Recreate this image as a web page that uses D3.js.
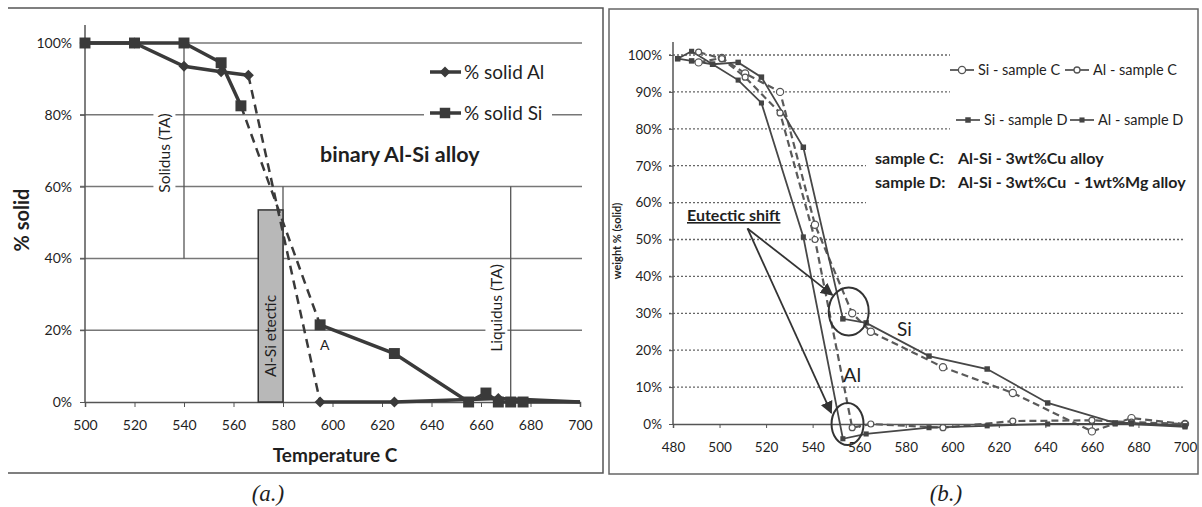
<!DOCTYPE html>
<html>
<head>
<meta charset="utf-8">
<script src="https://cdn.jsdelivr.net/npm/d3@7"></script>
<style>
  body { margin: 0; background: #fff; }
  svg text { font-family: Lato, "Open Sans", sans-serif; fill: #1f1f1f; }
</style>
</head>
<body>
<svg id="chart" width="1202" height="507"></svg>
<script>
// ---- panel (a.) binary Al-Si alloy ----
const tempAl = [500, 520, 540, 555, 566, 595, 625, 667, 700];
const solidAl = [100, 100, 93.5, 92, 91, 0, 0, 1, 0];
const tempSi = [500, 520, 540, 555, 563, 595, 625, 655, 662, 667, 672, 677, 700];
const solidSi = [100, 100, 100, 94.5, 82.5, 21.5, 13.5, 0, 2.5, 0, 0, 0, 0];
const dashFromA = 4; // segment 4 -> 5 is the dashed (extrapolated) part
const ticksTempA = [500, 520, 540, 560, 580, 600, 620, 640, 660, 680, 700];
const ticksPctA = [0, 20, 40, 60, 80, 100];
const solidusT = 540, liquidusT = 672;
const eutectic = [570, 580, 53.5];

// ---- panel (b.) samples C and D ----
const tempC = [491, 501, 511, 526, 541, 557, 565, 596, 626, 660, 677, 700];
const siC = [98, 99.2, 95, 90, 54, 30, 25, 15.4, 8.4, -2, 1.6, 0];
const alC = [100.8, 99, 94, 84.3, 50, -1, 0, -1, 0.8, 1, 0.5, 0];
const tempD = [482, 488, 497, 508, 518, 536, 553, 563, 590, 615, 641, 670, 677, 700];
const siD = [99, 98.4, 97.5, 98, 94, 75, 28.5, 27.4, 18.4, 14.9, 5.7, 0.3, 0.3, -0.5];
const alD = [99, 101, 97.5, 93.2, 87, 50.7, -4, -2.7, -1, -0.5, 0, 0, 0, -0.8];
const ticksTempB = d3.range(480, 701, 20);
const ticksPctB = d3.range(0, 101, 10);

const svg = d3.select("#chart");
const ink = "#3a3a3a";

// helper: text with a white box behind it (hides the gridlines like the original)
function boxedText(parent, str, tx, ty, rot, size, weight, anchor, pad) {
  const g = parent.append("g").attr("transform", `translate(${tx},${ty}) rotate(${rot})`);
  const r = g.append("rect").attr("fill", "#fff");
  const t = g.append("text")
    .attr("text-anchor", anchor || "middle")
    .attr("dy", "0.35em")
    .style("font-size", size + "px")
    .style("font-weight", weight || "normal")
    .text(str);
  const b = t.node().getBBox();
  r.attr("x", b.x - pad).attr("y", b.y - pad / 2)
    .attr("width", b.width + 2 * pad).attr("height", b.height + pad);
  return g;
}

// ================= panel (a.) =================
svg.append("path").attr("d", "M8,8H603V473H8")
  .attr("fill", "none").attr("stroke", "#555").attr("stroke-width", 1.5);

const xA = d3.scaleLinear().domain([500, 700]).range([85, 580]);
const yA = d3.scaleLinear().domain([0, 100]).range([402, 43]);
const gA = svg.append("g");

gA.selectAll(".gridA").data(ticksPctA.filter(d => d > 0)).join("line")
  .attr("x1", xA(500) - 5).attr("x2", 582)
  .attr("y1", d => yA(d)).attr("y2", d => yA(d))
  .attr("stroke", "#777").attr("stroke-width", 1.5);

gA.append("g").attr("transform", `translate(0,${yA(0)})`)
  .call(d3.axisBottom(xA).tickValues(ticksTempA).tickSize(5).tickPadding(13))
  .call(g => g.select(".domain").attr("stroke", "#555").attr("stroke-width", 1.5))
  .call(g => g.selectAll("line").attr("stroke", "#555"))
  .call(g => g.selectAll("text").style("font-size", "14px").attr("fill", "#2a2a2a"));

gA.append("g").attr("transform", `translate(${xA(500)},0)`)
  .call(d3.axisLeft(yA).tickValues(ticksPctA).tickFormat(d => d + "%").tickSize(5).tickPadding(8))
  .call(g => g.select(".domain").remove())
  .call(g => g.selectAll("line").attr("stroke", "#555"))
  .call(g => g.selectAll("text").style("font-size", "14px").attr("fill", "#2a2a2a"));
gA.append("line").attr("x1", xA(500)).attr("x2", xA(500)).attr("y1", 25).attr("y2", yA(0))
  .attr("stroke", "#555").attr("stroke-width", 1.5);

// solidus / liquidus markers
gA.append("line").attr("x1", xA(solidusT)).attr("x2", xA(solidusT))
  .attr("y1", yA(100)).attr("y2", yA(40)).attr("stroke", "#555").attr("stroke-width", 1.3);
gA.append("line").attr("x1", xA(liquidusT)).attr("x2", xA(liquidusT))
  .attr("y1", yA(60)).attr("y2", yA(0)).attr("stroke", "#555").attr("stroke-width", 1.3);
boxedText(gA, "Solidus (TA)", 165, 153, -90, 15.5, "normal", "middle", 4);
boxedText(gA, "Liquidus (TA)", 497, 308, -90, 15.5, "normal", "middle", 4);

// eutectic band
gA.append("line").attr("x1", xA(eutectic[1])).attr("x2", xA(eutectic[1]))
  .attr("y1", yA(60)).attr("y2", yA(0)).attr("stroke", "#555").attr("stroke-width", 1.3);
gA.append("rect").attr("x", xA(eutectic[0])).attr("y", yA(eutectic[2]))
  .attr("width", xA(eutectic[1]) - xA(eutectic[0])).attr("height", yA(0) - yA(eutectic[2]))
  .attr("fill", "#b8b8b8").attr("stroke", "#333").attr("stroke-width", 1.5);
gA.append("text").attr("transform", `translate(${(xA(eutectic[0]) + xA(eutectic[1])) / 2},336) rotate(-90)`)
  .attr("text-anchor", "middle").attr("dy", "0.35em").style("font-size", "15.5px")
  .text("Al-Si etectic");

// legend + title
const legA = gA.append("g");
legA.append("rect").attr("x", 424).attr("y", 56).attr("width", 128).attr("height", 70).attr("fill", "#fff");
const diamond = "M0,-5.5L5.5,0L0,5.5L-5.5,0Z";
[["% solid Al", 72, "d"], ["% solid Si", 113, "s"]].forEach(([lab, y, m]) => {
  legA.append("line").attr("x1", 430).attr("x2", 461).attr("y1", y).attr("y2", y)
    .attr("stroke", ink).attr("stroke-width", 3.5);
  legA.append("path").attr("d", m === "d" ? diamond : d3.symbol(d3.symbolSquare, 110)())
    .attr("transform", `translate(445,${y})`).attr("fill", ink);
  legA.append("text").attr("x", 464).attr("y", y).attr("dy", "0.35em")
    .style("font-size", "19px").text(lab);
});
gA.append("text").attr("x", 320).attr("y", 162).style("font-size", "21.5px")
  .style("font-weight", "bold").text("binary Al-Si alloy");
gA.append("text").attr("transform", "translate(22,220) rotate(-90)").attr("text-anchor", "middle")
  .attr("dy", "0.35em").style("font-size", "20px").style("font-weight", "bold").text("% solid");
gA.append("text").attr("x", 335).attr("y", 462).attr("text-anchor", "middle")
  .style("font-size", "19px").style("font-weight", "bold").text("Temperature C");
gA.append("text").attr("x", 320).attr("y", 350).style("font-size", "14px").text("A");

// data series
const lineA = d3.line().x(d => xA(d[0])).y(d => yA(d[1]));
function drawSeriesA(temps, vals, marker) {
  const pts = temps.map((t, i) => [t, vals[i]]);
  const parts = [
    [pts.slice(0, dashFromA + 1), null],
    [pts.slice(dashFromA, dashFromA + 2), "9,6"],
    [pts.slice(dashFromA + 1), null]
  ];
  parts.forEach(([p, dash]) => {
    gA.append("path").datum(p).attr("d", lineA).attr("fill", "none")
      .attr("stroke", ink).attr("stroke-width", dash ? 2.5 : 3.5)
      .attr("stroke-dasharray", dash);
  });
  gA.selectAll(null).data(pts.filter(d => d[0] < 700)).join("path")
    .attr("d", marker === "d" ? diamond : d3.symbol(d3.symbolSquare, 120)())
    .attr("transform", d => `translate(${xA(d[0])},${yA(d[1])})`)
    .attr("fill", ink);
}
drawSeriesA(tempAl, solidAl, "d");
drawSeriesA(tempSi, solidSi, "s");

svg.append("text").attr("x", 268).attr("y", 501).attr("text-anchor", "middle")
  .style("font-family", "'Liberation Serif', serif").style("font-style", "italic")
  .style("font-size", "23px").text("(a.)");

// ================= panel (b.) =================
svg.append("rect").attr("x", 609).attr("y", 9).attr("width", 589).attr("height", 465)
  .attr("fill", "none").attr("stroke", "#666").attr("stroke-width", 1.5);

const xB = d3.scaleLinear().domain([480, 700]).range([673, 1185]);
const yB = d3.scaleLinear().domain([0, 100]).range([424, 55]);
const gB = svg.append("g");

gB.selectAll(".gridB").data(ticksPctB.filter(d => d > 0)).join("line")
  .attr("x1", xB(480) - 4).attr("x2", xB(700))
  .attr("y1", d => yB(d)).attr("y2", d => yB(d))
  .attr("stroke", "#666").attr("stroke-width", 1.3).attr("stroke-dasharray", "2,2");

gB.append("g").attr("transform", `translate(0,${yB(0)})`)
  .call(d3.axisBottom(xB).tickValues(ticksTempB).tickSize(4).tickPadding(14))
  .call(g => g.select(".domain").attr("stroke", "#555").attr("stroke-width", 1.5))
  .call(g => g.selectAll("line").attr("stroke", "#555"))
  .call(g => g.selectAll("text").style("font-size", "13.5px").attr("fill", "#2a2a2a"));
gB.append("g").attr("transform", `translate(${xB(480)},0)`)
  .call(d3.axisLeft(yB).tickValues(ticksPctB).tickFormat(d => d + "%").tickSize(4).tickPadding(7))
  .call(g => g.select(".domain").remove())
  .call(g => g.selectAll("line").attr("stroke", "#555"))
  .call(g => g.selectAll("text").style("font-size", "13.5px").attr("fill", "#2a2a2a"));
gB.append("line").attr("x1", xB(480)).attr("x2", xB(480)).attr("y1", 42).attr("y2", yB(0))
  .attr("stroke", "#555").attr("stroke-width", 1.5);
gB.append("text").attr("transform", "translate(617,241) rotate(-90)").attr("text-anchor", "middle")
  .attr("dy", "0.35em").style("font-size", "11px").style("font-weight", "bold").text("weight % (solid)");

// white areas for legend and sample notes
gB.append("rect").attr("x", 950).attr("y", 48).attr("width", 240).attr("height", 90).attr("fill", "#fff");
gB.append("rect").attr("x", 866).attr("y", 140).attr("width", 326).attr("height", 66).attr("fill", "#fff");

const seriesB = [
  { name: "Si - sample C", t: tempC, v: siC, dash: "7,4", mark: "o", r: 3.6, lx: 962, ly: 70 },
  { name: "Al - sample C", t: tempC, v: alC, dash: "7,4", mark: "o", r: 3, lx: 1077, ly: 70 },
  { name: "Si - sample D", t: tempD, v: siD, dash: null, mark: "s", r: 30, lx: 968, ly: 120 },
  { name: "Al - sample D", t: tempD, v: alD, dash: null, mark: "s", r: 26, lx: 1082, ly: 120 }
];

// legend
seriesB.forEach(s => {
  gB.append("line").attr("x1", s.lx - 12).attr("x2", s.lx + 12).attr("y1", s.ly).attr("y2", s.ly)
    .attr("stroke", "#555").attr("stroke-width", 1.8);
  if (s.mark === "o") {
    gB.append("circle").attr("cx", s.lx).attr("cy", s.ly).attr("r", s.r)
      .attr("fill", "#fff").attr("stroke", "#555").attr("stroke-width", 1.3);
  } else {
    gB.append("path").attr("d", d3.symbol(d3.symbolSquare, s.r)())
      .attr("transform", `translate(${s.lx},${s.ly})`).attr("fill", "#444");
  }
  gB.append("text").attr("x", s.lx + 16).attr("y", s.ly).attr("dy", "0.35em")
    .style("font-size", "14.5px").text(s.name);
});

const noteB = gB.append("g").style("font-size", "16px").style("font-weight", "bold");
noteB.append("text").attr("x", 875).attr("y", 164).text("sample C:");
noteB.append("text").attr("x", 958).attr("y", 164).text("Al-Si - 3wt%Cu alloy");
noteB.append("text").attr("x", 875).attr("y", 188).text("sample D:");
noteB.append("text").attr("x", 958).attr("y", 188).style("white-space", "pre").text("Al-Si - 3wt%Cu  - 1wt%Mg alloy");

// data series
const lineB = d3.line().x(d => xB(d[0])).y(d => yB(d[1]));
seriesB.forEach(s => {
  const pts = s.t.map((t, i) => [t, s.v[i]]);
  gB.append("path").datum(pts).attr("d", lineB).attr("fill", "none")
    .attr("stroke", s.dash ? "#5a5a5a" : "#474747").attr("stroke-width", s.dash ? 2.2 : 1.8)
    .attr("stroke-dasharray", s.dash);
});
seriesB.forEach(s => {
  const pts = s.t.map((t, i) => [t, s.v[i]]);
  if (s.mark === "o") {
    gB.selectAll(null).data(pts).join("circle")
      .attr("cx", d => xB(d[0])).attr("cy", d => yB(d[1])).attr("r", s.r)
      .attr("fill", "#fff").attr("stroke", "#555").attr("stroke-width", 1.2);
  } else {
    gB.selectAll(null).data(pts).join("path")
      .attr("d", d3.symbol(d3.symbolSquare, s.r)())
      .attr("transform", d => `translate(${xB(d[0])},${yB(d[1])})`).attr("fill", "#444");
  }
});

// annotations: eutectic shift
const defs = svg.append("defs");
defs.append("marker").attr("id", "arr").attr("viewBox", "0 0 10 10").attr("refX", 9).attr("refY", 5)
  .attr("markerWidth", 7).attr("markerHeight", 7).attr("orient", "auto")
  .append("path").attr("d", "M0,0L10,5L0,10Z").attr("fill", "#333");

gB.append("text").attr("x", 687).attr("y", 221).style("font-size", "16px")
  .style("font-weight", "bold").style("text-decoration", "underline").text("Eutectic shift");
[[548.5, 35], [548, 3]].forEach(([t, v]) => {
  gB.append("line").attr("x1", xB(512)).attr("y1", yB(53)).attr("x2", xB(t)).attr("y2", yB(v))
    .attr("stroke", "#333").attr("stroke-width", 1.8).attr("marker-end", "url(#arr)");
});
gB.append("ellipse").attr("cx", xB(555.5)).attr("cy", yB(30.5)).attr("rx", 20).attr("ry", 24)
  .attr("fill", "none").attr("stroke", "#333").attr("stroke-width", 2);
gB.append("ellipse").attr("cx", xB(555)).attr("cy", yB(0)).attr("rx", 16).attr("ry", 21)
  .attr("fill", "none").attr("stroke", "#333").attr("stroke-width", 2);
gB.append("text").attr("x", 897).attr("y", 336).style("font-size", "19px").text("Si");
gB.append("text").attr("x", 843).attr("y", 382).style("font-size", "20px").text("Al");

svg.append("text").attr("x", 946).attr("y", 501).attr("text-anchor", "middle")
  .style("font-family", "'Liberation Serif', serif").style("font-style", "italic")
  .style("font-size", "23px").text("(b.)");
</script>
</body>
</html>
